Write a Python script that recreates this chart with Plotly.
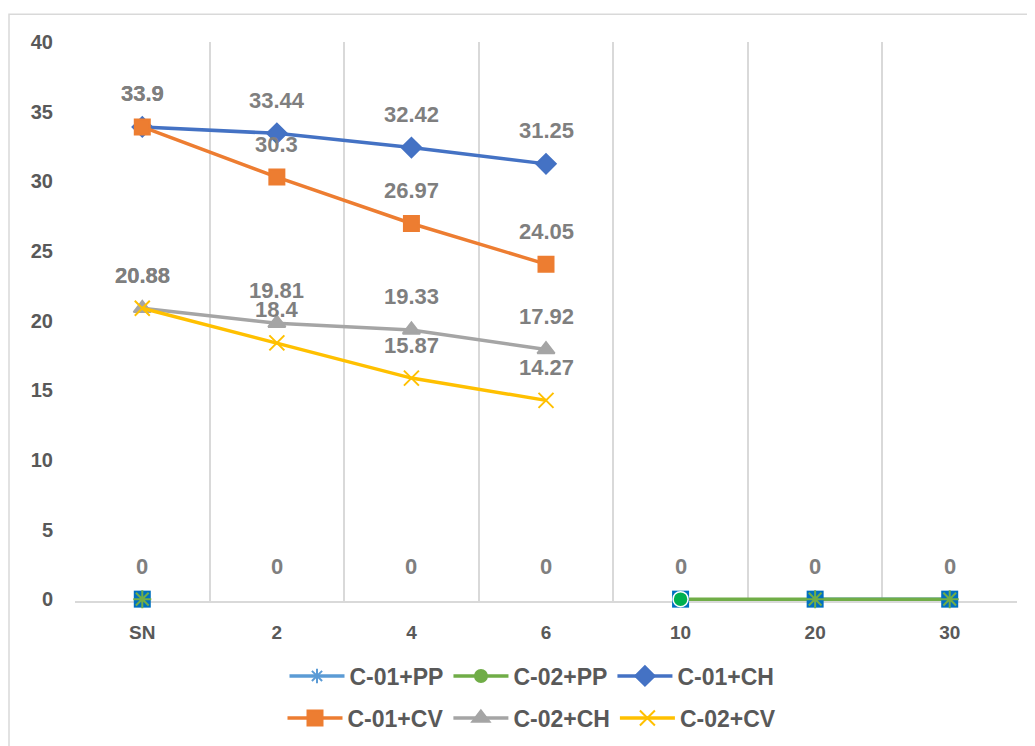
import plotly.graph_objects as go

categories = ["SN", "2", "4", "6", "10", "20", "30"]
c01_pp = [0, None, None, None, None, 0, 0]
c02_pp = [None, None, None, None, 0, 0, 0]
c01_ch = [33.9, 33.44, 32.42, 31.25, None, None, None]
c01_cv = [33.9, 30.3, 26.97, 24.05, None, None, None]
c02_ch = [20.88, 19.81, 19.33, 17.92, None, None, None]
c02_cv = [20.88, 18.4, 15.87, 14.27, None, None, None]
zero_labels = [0, 0, 0, 0, 0, 0, 0]

# overlay marker points seen at the baseline
overlay_sq = [0, None, None, None, 0, 0, 0]
overlay_star = [0, None, None, None, None, 0, 0]
overlay_circle = [None, None, None, None, 0, None, None]

FONT = "Liberation Sans, Arial, sans-serif"
LBL = "#7F7F7F"
TXT = "#595959"

fig = go.Figure()

series = [
    ("C-01+PP", c01_pp, "#5B9BD5", "asterisk-open", 12, "legend"),
    ("C-02+PP", c02_pp, "#70AD47", "circle", 12, "legend"),
    ("C-01+CH", c01_ch, "#4472C4", "diamond", 15, "legend"),
    ("C-01+CV", c01_cv, "#ED7D31", "square", 15, "legend2"),
    ("C-02+CH", c02_ch, "#A5A5A5", "triangle-up", 15, "legend2"),
    ("C-02+CV", c02_cv, "#FFC000", "x-thin-open", 15, "legend2"),
]

for name, vals, col, sym, size, leg in series:
    fig.add_trace(go.Scatter(
        x=categories, y=vals, name=name, mode="lines+markers",
        line=dict(color=col, width=3.5),
        marker=dict(symbol=sym, size=size, color=col,
                    line=dict(color=col, width=2)),
        connectgaps=False, legend=leg, cliponaxis=False,
    ))

# baseline overlay markers (blue squares with green stars / green circle)
fig.add_trace(go.Scatter(
    x=categories, y=overlay_sq, mode="markers", showlegend=False, cliponaxis=False,
    marker=dict(symbol="square", size=17, color="#0070C0",
                line=dict(width=0)), hoverinfo="skip"))
fig.add_trace(go.Scatter(
    x=categories, y=overlay_star, mode="markers", showlegend=False, cliponaxis=False,
    marker=dict(symbol="asterisk-open", size=15, color="#70AD47",
                line=dict(color="#70AD47", width=2)), hoverinfo="skip"))
fig.add_trace(go.Scatter(
    x=categories, y=overlay_circle, mode="markers", showlegend=False, cliponaxis=False,
    marker=dict(symbol="circle", size=15, color="#00B050",
                line=dict(color="white", width=1.5)), hoverinfo="skip"))

# data labels (x given as category index)
annotations = []
def add_labels(vals):
    for i, v in enumerate(vals):
        if v is None:
            continue
        annotations.append(dict(
            x=i, y=v, xref="x", yref="y", text=f"{v:g}", showarrow=False,
            yshift=33, font=dict(family=FONT, size=22, color=LBL, weight="bold")))

add_labels(zero_labels)
for _, vals, *_ in series[2:]:
    add_labels(vals)

# page body has an 8px margin, so the figure is 8px smaller than the window
W, H = 1027, 738
L, R, T, B = 67, 18, 34, 142
pw, ph = W - L - R, H - T - B
axis_y = H - B
leg_x = 524 / W

fig.update_layout(
    width=W, height=H,
    margin=dict(l=L, r=R, t=T, b=B),
    paper_bgcolor="white", plot_bgcolor="white",
    font=dict(family=FONT, color=TXT),
    annotations=annotations,
    showlegend=True,
    legend=dict(orientation="h", x=leg_x, xanchor="center", xref="container",
                y=1 - 668 / H, yanchor="middle", yref="container",
                font=dict(family=FONT, size=23, color=TXT, weight="bold"),
                itemclick=False, itemwidth=55),
    legend2=dict(orientation="h", x=leg_x, xanchor="center", xref="container",
                 y=1 - 710 / H, yanchor="middle", yref="container",
                 font=dict(family=FONT, size=23, color=TXT, weight="bold"),
                 itemclick=False, itemwidth=55),
    shapes=[dict(type="rect", xref="paper", yref="paper",
                 x0=(1 - L) / pw, x1=1.2, y0=-0.5, y1=(axis_y - 6) / ph,
                 line=dict(color="#D9D9D9", width=1.5), fillcolor="rgba(0,0,0,0)",
                 layer="below")],
)

fig.update_xaxes(
    type="category", tickson="boundaries", showgrid=True, gridcolor="#D9D9D9",
    gridwidth=1.5, showline=True, linecolor="#D9D9D9", linewidth=1.5,
    layer="below traces",
    ticks="", ticklabelstandoff=13,
    tickfont=dict(family=FONT, size=19, color=TXT, weight="bold"),
    range=[-0.5, 6.5], zeroline=False,
)
fig.update_yaxes(
    range=[-0.13, 40], tickvals=[0, 5, 10, 15, 20, 25, 30, 35, 40],
    showgrid=False, zeroline=False, showline=False,
    ticks="", ticklabelstandoff=21,
    tickfont=dict(family=FONT, size=20, color=TXT, weight="bold"),
)

fig.write_html("out.html")
